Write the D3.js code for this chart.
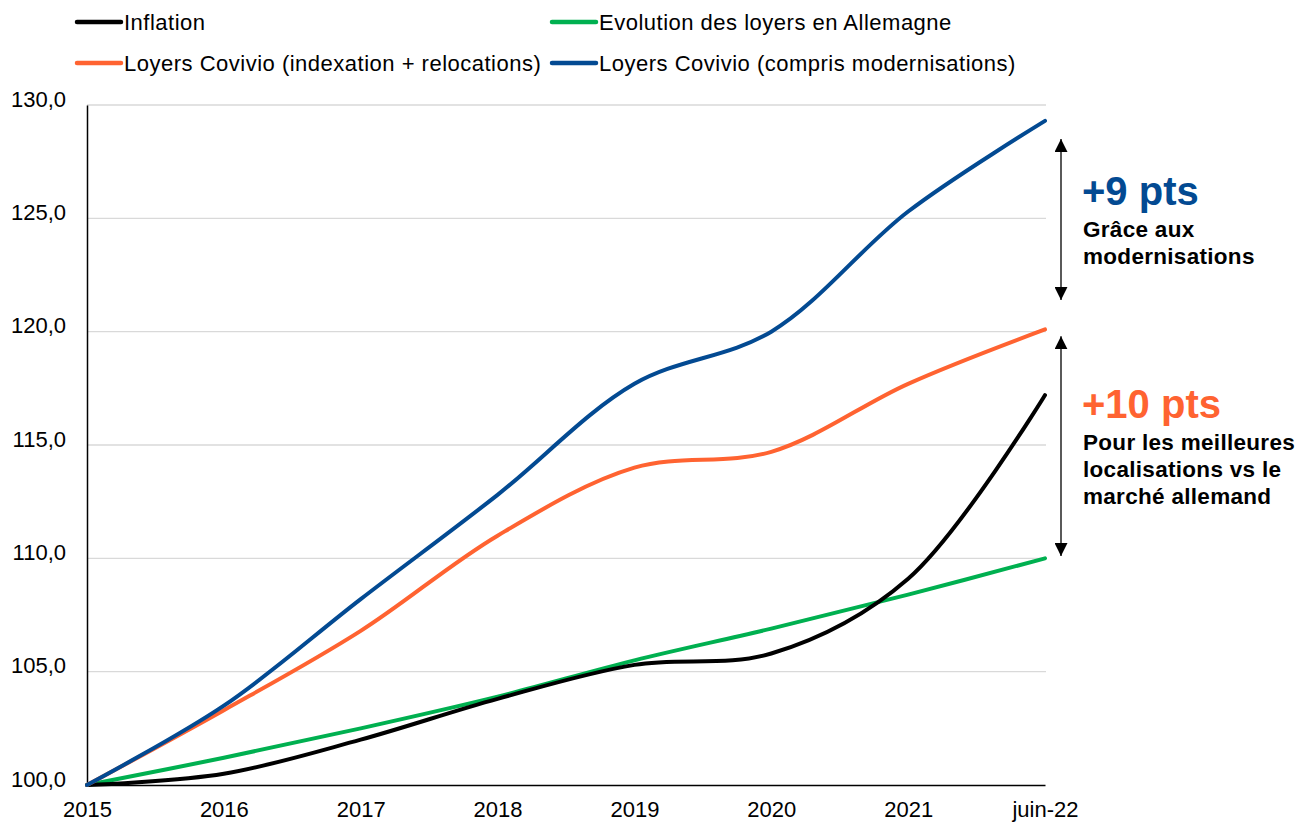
<!DOCTYPE html>
<html>
<head>
<meta charset="utf-8">
<script src="https://cdn.jsdelivr.net/npm/d3@7"></script>
<style>
  body { margin: 0; background: #fff; }
  text { font-family: "Liberation Sans", Arial, sans-serif; }
</style>
</head>
<body>
<svg id="chart" width="1299" height="823"></svg>
<script>
// Data
const categories = ['2015', '2016', '2017', '2018', '2019', '2020', '2021', 'juin-22'];
const inflation = [100.0, 100.5, 102.0, 103.8, 105.3, 105.8, 109.1, 117.2];
const germanRents = [100.0, 101.2, 102.5, 103.9, 105.5, 106.9, 108.4, 110.0];
const covivioIndexation = [100.0, 103.3, 106.8, 111.0, 114.0, 114.7, 117.7, 120.1];
const covivioModernisation = [100.0, 103.5, 108.2, 112.8, 117.7, 120.0, 125.3, 129.3];
const yTicks = [100, 105, 110, 115, 120, 125, 130];

const series = [
    { name: 'Inflation', values: inflation, color: '#000000' },
    { name: 'Evolution des loyers en Allemagne', values: germanRents, color: '#00b050' },
    { name: 'Loyers Covivio (indexation + relocations)', values: covivioIndexation, color: '#ff6331' },
    { name: 'Loyers Covivio (compris modernisations)', values: covivioModernisation, color: '#034a92' }
];

const svg = d3.select('#chart');

const x = d3.scalePoint().domain(categories).range([87, 1045]);
const y = d3.scaleLinear().domain([100, 130]).range([785, 105]);

// gridlines
svg.append('g')
    .selectAll('line')
    .data(yTicks.filter(t => t > 100))
    .join('line')
    .attr('x1', 87)
    .attr('x2', 1046)
    .attr('y1', d => y(d))
    .attr('y2', d => y(d))
    .attr('stroke', '#d9d9d9')
    .attr('stroke-width', 1.3);

// y axis
const yAxis = svg.append('g')
    .attr('transform', 'translate(87,0)')
    .call(d3.axisLeft(y).tickValues(yTicks).tickSize(0).tickPadding(21)
        .tickFormat(d => d3.format('.1f')(d).replace('.', ',')));
yAxis.select('.domain').attr('stroke', '#000').attr('stroke-width', 1.5);
yAxis.selectAll('text').attr('font-size', 22).attr('fill', '#000').attr('dy', '0.05em');

// x axis
const xAxis = svg.append('g')
    .attr('transform', `translate(0,${y(100)})`)
    .call(d3.axisBottom(x).tickSize(0).tickPadding(16));
xAxis.select('.domain').attr('stroke', '#000').attr('stroke-width', 1.5);
xAxis.selectAll('text').attr('font-size', 22).attr('fill', '#000');

// lines
const line = d3.line()
    .x((d, i) => x(categories[i]))
    .y(d => y(d))
    .curve(d3.curveCatmullRom.alpha(0.5));

svg.append('g')
    .selectAll('path')
    .data([series[1], series[0], series[2], series[3]])
    .join('path')
    .attr('d', d => line(d.values))
    .attr('fill', 'none')
    .attr('stroke', d => d.color)
    .attr('stroke-width', 4)
    .attr('stroke-linecap', 'round');

// legend
const legendPos = [[77, 22], [552, 22], [77, 63], [552, 63]];
const legend = svg.append('g')
    .selectAll('g')
    .data(series)
    .join('g')
    .attr('transform', (d, i) => `translate(${legendPos[i][0]},${legendPos[i][1]})`);
legend.append('line')
    .attr('x1', 0).attr('x2', 44)
    .attr('stroke', d => d.color)
    .attr('stroke-width', 4.5)
    .attr('stroke-linecap', 'round');
legend.append('text')
    .attr('x', 47)
    .attr('dy', '0.35em')
    .attr('font-size', 22)
    .attr('letter-spacing', 0.5)
    .attr('fill', '#000')
    .text(d => d.name);

// annotations
const defs = svg.append('defs');
defs.append('marker')
    .attr('id', 'arrow')
    .attr('viewBox', '0 -5 10 10')
    .attr('refX', 10)
    .attr('refY', 0)
    .attr('markerWidth', 13)
    .attr('markerHeight', 13)
    .attr('markerUnits', 'userSpaceOnUse')
    .attr('orient', 'auto-start-reverse')
    .append('path')
    .attr('d', 'M0,-5L10,0L0,5Z')
    .attr('fill', '#000');

function drawArrow(v1, v2) {
    svg.append('line')
        .attr('x1', 1061).attr('x2', 1061)
        .attr('y1', y(v1)).attr('y2', y(v2))
        .attr('stroke', '#000')
        .attr('stroke-width', 1.3)
        .attr('marker-start', 'url(#arrow)')
        .attr('marker-end', 'url(#arrow)');
}
drawArrow(128.5, 121.4);
drawArrow(119.8, 110.1);

const notes = [
    { title: '+9 pts', color: '#034a92', y: 205, lines: ['Grâce aux', 'modernisations'] },
    { title: '+10 pts', color: '#ff6331', y: 418, lines: ['Pour les meilleures', 'localisations vs le', 'marché allemand'] }
];
notes.forEach(n => {
    svg.append('text')
        .attr('x', 1082).attr('y', n.y)
        .attr('font-size', 40)
        .attr('font-weight', 'bold')
        .attr('fill', n.color)
        .text(n.title);
    n.lines.forEach((l, i) => {
        svg.append('text')
            .attr('x', 1083).attr('y', n.y + 32 + i * 27)
            .attr('font-size', 22.5)
            .attr('letter-spacing', 0.3)
            .attr('font-weight', 'bold')
            .attr('fill', '#000')
            .text(l);
    });
});
</script>
</body>
</html>
